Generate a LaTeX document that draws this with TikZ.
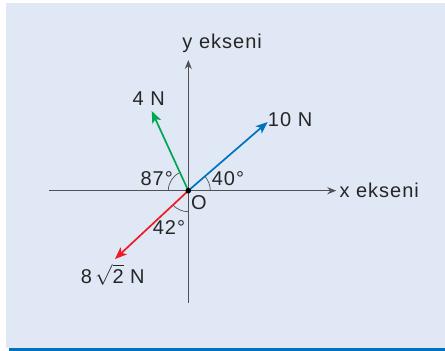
\documentclass[tikz,border=0pt]{standalone}
\usepackage{fontspec}
\setmainfont{Liberation Sans}[LetterSpace=5]
\usepackage{xcolor}
\usetikzlibrary{arrows.meta, positioning}

\definecolor{panel}{RGB}{224,232,245}
\definecolor{rule}{RGB}{0,113,188}
\definecolor{axisgray}{RGB}{80,80,85}
\definecolor{fgreen}{RGB}{0,166,81}
\definecolor{fblue}{RGB}{0,114,188}
\definecolor{fred}{RGB}{237,28,36}

\begin{document}
\begin{tikzpicture}[
			x=1pt, y=1pt,
			font=\fontsize{20}{24}\selectfont,
			lbl/.style={inner sep=0pt, text=black!85},
			axis/.style={line width=1.3pt, draw=axisgray},
			axarr/.style={axis, -{Stealth[length=9pt, width=7pt]}},
			force/.style={line width=1.7pt, -{Stealth[length=12pt, width=9.5pt, inset=3pt]}},
			angarc/.style={line width=0.7pt, draw=axisgray}
			]
			
			\useasboundingbox (-188.3,-160.3) rectangle (256.7,190.7);
			\fill[panel] (-182.3,-157.6) rectangle (256.7,187.7);
			\fill[rule] (-179.3,-160.3) rectangle (256.7,-157.6);
			
			\coordinate (O) at (0,0);
			\coordinate (xl) at (-139,0);
			\coordinate (xr) at (148,0);
			\coordinate (yb) at (0,-112);
			\coordinate (yt) at (0,130.7);
			\coordinate (g) at (-36.6,79.7);
			\coordinate (b) at (79.4,68.7);
			\coordinate (r) at (-73.3,-68.3);
			
			\draw[axarr] (xl) -- (xr);
			\draw[axarr] (yb) -- (yt);
			\node[lbl, anchor=west] (xlab) at (151,0) {x ekseni};
			\node[lbl, anchor=west] (ylab) at (-6,147) {y ekseni};
			
			% angle arcs
			\draw[angarc] (-20,0) arc[start angle=180, end angle=114.7, radius=20];
			\draw[angarc] (22,0) arc[start angle=0, end angle=40.9, radius=22];
			\draw[angarc] (0,-21) arc[start angle=270, end angle=223, radius=21];
			
			\draw[force, fgreen] (O) -- (g);
			\draw[force, fblue] (O) -- (b);
			\draw[force, fred] (O) -- (r);
			
			\fill[black] (O) circle[radius=2.8];
			
			\node[lbl] (g-lab) at (-39.5,92) {4 N};
			\node[lbl, anchor=west] (b-lab) at (79.5,71.4) {10 N};
			\node[lbl] (r-lab) at (-75.6,-84.3) {8\,$\sqrt{\mbox{2}}$ N};
			\node[lbl] (a87) at (-31.6,12.4) {87°};
			\node[lbl] (a40) at (39.7,11.7) {40°};
			\node[lbl] (a42) at (-19.3,-37.3) {42°};
			\node[lbl] (o-lab) at (10.7,-12) {O};
			
		\end{tikzpicture}
\end{document}
